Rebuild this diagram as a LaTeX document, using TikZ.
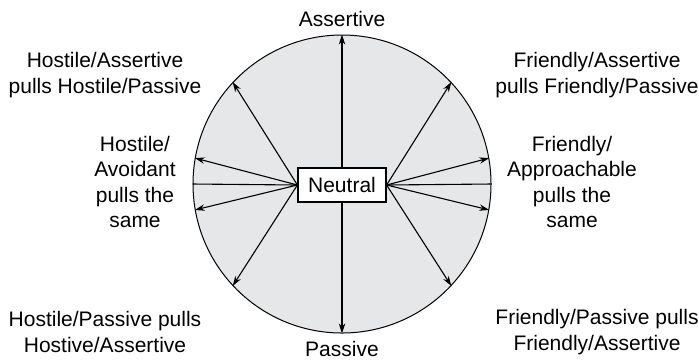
\documentclass[tikz,border=0pt]{standalone}
\usepackage{fontspec}
\setmainfont{Liberation Sans}
\usetikzlibrary{arrows.meta}
\definecolor{dialgray}{HTML}{E6E7E8}

\begin{document}
\begin{tikzpicture}[x=0.5pt,y=-0.5pt,
  ring/.style={draw,circle,fill=dialgray,minimum size=149pt,inner sep=0pt,
               line width=0.5pt},
  box/.style={draw,fill=white,minimum width=44pt,minimum height=17pt,
              inner sep=0pt,line width=0.6pt,font=\fontsize{10.5}{12.75}\selectfont},
  arr/.style={-{Stealth[length=5pt,width=3.2pt]},line width=0.55pt},
  lab/.style={align=center,font=\fontsize{10.5}{12.75}\selectfont}]
  \useasboundingbox (0,0) rectangle (699,361);
  \node[ring] (dial) at (342,184) {};
  \node[box] (n) at (342,185) {Neutral};
  % axes
  \draw[arr] (n.north) -- (dial.north);
  \draw[arr] (n.south) -- (dial.south);
  \draw[line width=0.55pt] (n.west) -- (dial.west);
  \draw[line width=0.55pt] (n.east) -- (dial.east);
  % hostile side
  \draw[arr] (n.west) -- (dial.137);
  \draw[arr] (n.west) -- (dial.170);
  \draw[arr] (n.west) -- (dial.190);
  \draw[arr] (n.west) -- (dial.223);
  % friendly side
  \draw[arr] (n.east) -- (dial.43);
  \draw[arr] (n.east) -- (dial.10);
  \draw[arr] (n.east) -- (dial.-10);
  \draw[arr] (n.east) -- (dial.-43);
  % labels
  \node[lab] (assert) at (342,19) {Assertive};
  \node[lab] (passive) at (342,349) {Passive};
  \node[lab] (hostassert) at (105,75) {Hostile/Assertive\\pulls Hostile/Passive};
  \node[lab] (hostavoid) at (135,182) {Hostile/\\Avoidant\\pulls the\\same};
  \node[lab] (hostpass) at (105,332) {Hostile/Passive pulls\\Hostive/Assertive};
  \node[lab] (friendassert) at (597,75) {Friendly/Assertive\\pulls Friendly/Passive};
  \node[lab] (friendapp) at (572,182) {Friendly/\\Approachable\\pulls the\\same};
  \node[lab] (friendpass) at (597,332) {Friendly/Passive pulls\\Friendly/Assertive};
\end{tikzpicture}
\end{document}
